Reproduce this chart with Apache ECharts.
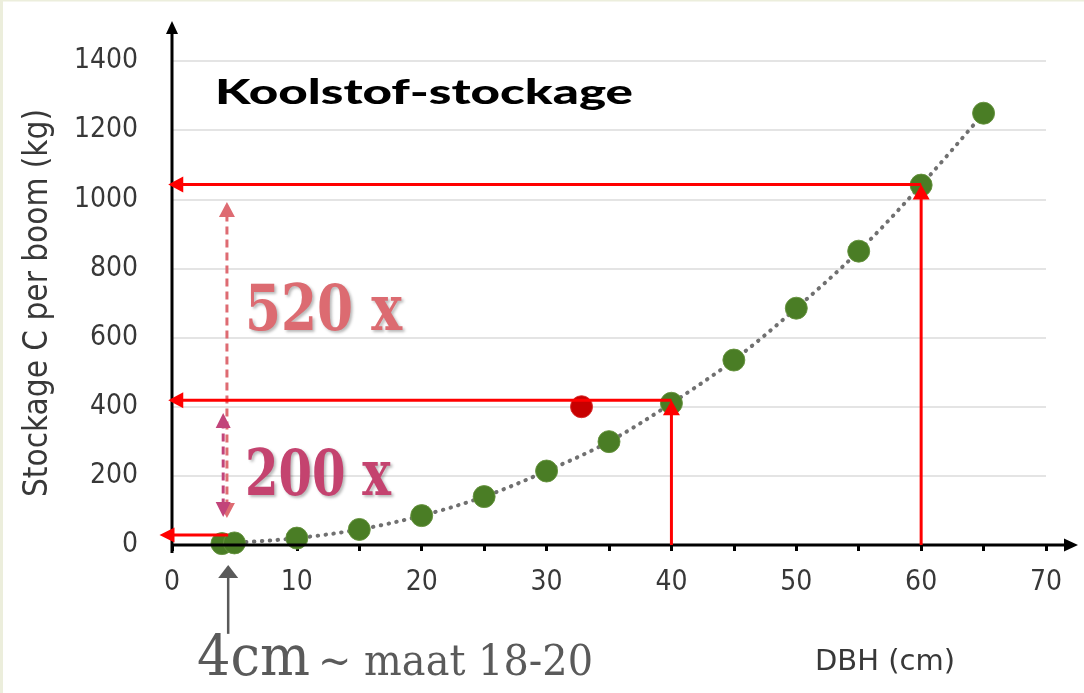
<!DOCTYPE html>
<html>
<head>
<meta charset="utf-8">
<script src="https://cdn.jsdelivr.net/npm/echarts@6/dist/echarts.min.js"></script>
<style>
html,body{margin:0;padding:0;background:#ffffff;}
#chart{width:1084px;height:693px;}
</style>
</head>
<body>
<div id="chart"></div>
<script>
// ---------- data ----------
const dbh = [4, 5, 10, 15, 20, 25, 30, 35, 40, 45, 50, 55, 60, 65];
const storage = [4, 6, 20, 45, 85, 140, 214, 299, 410, 535, 685, 850, 1041, 1249];
const highlightDbh = [32.8];
const highlightStorage = [400];
const xTickValues = [0, 10, 20, 30, 40, 50, 60, 70];
const yTickValues = [0, 200, 400, 600, 800, 1000, 1200, 1400];
// annotation anchors (data units)
const guideDbh = [60, 40];
const guideStorage = [1043, 419];
const smallArrowDbh = [4.5, -1];
const smallArrowStorage = [29, 29];
const span520 = [78, 992];   // at dbh 4.4
const span200 = [81, 382];   // at dbh 4.1
const spanDbh = [4.4, 4.1];
const sizeMarkerDbh = 4.5;
const sizeMarkerStorage = [-257, -58];

const chart = echarts.init(document.getElementById('chart'), null, {renderer: 'canvas'});

const labelFont = '"DejaVu Sans Condensed", "DejaVu Sans", sans-serif';

chart.setOption({
  backgroundColor: '#ffffff',
  animation: false,
  grid: {left: 172, right: 38, top: 61, bottom: 148, containLabel: false},
  xAxis: {
    type: 'value', min: 0, max: 70, interval: 5,
    axisLine: {show: false},
    axisTick: {show: true, inside: false, length: 6, lineStyle: {color: '#000', width: 3}},
    axisLabel: {
      margin: 24, color: '#383838', fontSize: 28, fontFamily: labelFont,
      formatter: v => xTickValues.indexOf(v) >= 0 ? String(v) : ''
    },
    splitLine: {show: false}
  },
  yAxis: {
    type: 'value', min: 0, max: 1400, interval: 200,
    axisLine: {show: false},
    axisTick: {show: false},
    axisLabel: {
      margin: 34, color: '#383838', fontSize: 28, fontFamily: labelFont,
      formatter: v => yTickValues.indexOf(v) >= 0 ? String(v) : ''
    },
    splitLine: {show: true, lineStyle: {color: '#e4e4e4', width: 2}},
    name: 'Stockage C per boom (kg)',
    nameLocation: 'middle', nameGap: 117,
    nameTextStyle: {color: '#383838', fontSize: 33, fontFamily: labelFont}
  },
  series: [
    {
      type: 'line', data: dbh.map((x, i) => [x, storage[i]]),
      smooth: 0.35, showSymbol: false, z: 2,
      lineStyle: {color: '#707070', width: 4, type: [0.5, 7.5], cap: 'round'}
    },
    {
      type: 'scatter', data: dbh.map((x, i) => [x, storage[i]]),
      symbolSize: 22, z: 3,
      itemStyle: {color: '#4a7d25', opacity: 1, borderColor: 'rgba(100,145,60,0.9)', borderWidth: 1}
    },
    {
      type: 'scatter', data: highlightDbh.map((x, i) => [x, highlightStorage[i]]),
      symbolSize: 22, z: 3,
      itemStyle: {color: '#c80000', opacity: 1, borderColor: 'rgba(215,40,40,0.9)', borderWidth: 1}
    }
  ]
});

// ---------- overlay graphics via library scales ----------
const px = (x, y) => chart.convertToPixel({gridIndex: 0}, [x, y]);

function arrow(p0, p1, o) {
  const dx = p1[0] - p0[0], dy = p1[1] - p0[1];
  const L = Math.hypot(dx, dy), ux = dx / L, uy = dy / L;
  const nx = -uy, ny = ux, hl = o.headLen, hw = o.headW / 2;
  const out = [];
  const head = (tip, ux2, uy2) => {
    const bx = tip[0] - ux2 * hl, by = tip[1] - uy2 * hl;
    return {type: 'polygon', z: o.z || 10, silent: true,
      shape: {points: [[tip[0], tip[1]], [bx + nx * hw, by + ny * hw], [bx - nx * hw, by - ny * hw]]},
      style: {fill: o.color}};
  };
  let s = p0, e = p1;
  if (o.end) { e = [p1[0] - ux * hl * 0.7, p1[1] - uy * hl * 0.7]; out.push(head(p1, ux, uy)); }
  if (o.start) { s = [p0[0] + ux * hl * 0.7, p0[1] + uy * hl * 0.7]; out.push(head(p0, -ux, -uy)); }
  out.unshift({type: 'line', z: o.z || 10, silent: true,
    shape: {x1: s[0], y1: s[1], x2: e[0], y2: e[1]},
    style: {stroke: o.color, lineWidth: o.width, lineDash: o.dash || null}});
  return out;
}

const mctx = document.createElement('canvas').getContext('2d');
function fitScale(text, weight, size, family, target) {
  mctx.font = weight + ' ' + size + 'px ' + family;
  return target / mctx.measureText(text).width;
}

function textEl(text, x, y, o) {
  const sx = o.fitWidth ? fitScale(text, o.weight || 'normal', o.size, o.family, o.fitWidth) : 1;
  return {type: 'text', x: x, y: y, scaleX: sx, z: 20, silent: true,
    style: {text: text, fill: o.color, fontSize: o.size, fontFamily: o.family, fontWeight: o.weight || 'normal',
      align: 'left', verticalAlign: 'middle',
      textShadowColor: o.shadow ? 'rgba(0,0,0,0.28)' : 'transparent',
      textShadowBlur: o.shadow ? 3 : 0, textShadowOffsetX: o.shadow ? 2 : 0, textShadowOffsetY: o.shadow ? 2 : 0}};
}

let g = [];
// page border tint
g.push({type: 'rect', shape: {x: 0, y: 0, width: 3, height: 693}, style: {fill: '#eceedc'}, z: 1, silent: true});
g.push({type: 'rect', shape: {x: 0, y: 0, width: 1084, height: 1.5}, style: {fill: '#eceedc'}, z: 1, silent: true});

// axes with arrows
const o0 = px(0, 0), xEnd = px(70, 0), yTop = px(0, 1400);
g = g.concat(arrow([o0[0], o0[1] + 8], [o0[0], yTop[1] - 40], {color: '#000', width: 3, headLen: 13, headW: 12, end: true, z: 9}));
g = g.concat(arrow([o0[0] - 1, o0[1]], [xEnd[0] + 32, o0[1]], {color: '#000', width: 3, headLen: 14, headW: 13, end: true, z: 9}));

// red guide arrows (vertical from axis up to point, horizontal back to y-axis)
const red = '#ff0000';
for (let i = 0; i < guideDbh.length; i++) {
  const base = px(guideDbh[i], 0), top = px(guideDbh[i], guideStorage[i]);
  g = g.concat(arrow(base, top, {color: red, width: 3, headLen: 15, headW: 17, end: true, z: 12}));
  const left = px(-0.3, guideStorage[i]);
  g = g.concat(arrow(top, left, {color: red, width: 3, headLen: 15, headW: 16, end: true, z: 12}));
}
g = g.concat(arrow(px(smallArrowDbh[0], smallArrowStorage[0]), px(smallArrowDbh[1], smallArrowStorage[1]),
  {color: red, width: 3, headLen: 15, headW: 15, end: true, z: 12}));

// dashed ratio arrows
g = g.concat(arrow(px(spanDbh[0], span520[0]), px(spanDbh[0], span520[1]),
  {color: '#de6b72', width: 3, dash: [8, 5], headLen: 15, headW: 16, start: true, end: true, z: 11}));
g = g.concat(arrow(px(spanDbh[1], span200[0]), px(spanDbh[1], span200[1]),
  {color: '#c2447a', width: 3, dash: [8, 5], headLen: 15, headW: 15, start: true, end: true, z: 11}));

// gray size marker arrow
g = g.concat(arrow(px(sizeMarkerDbh, sizeMarkerStorage[0]), px(sizeMarkerDbh, sizeMarkerStorage[1]),
  {color: '#5a5a5a', width: 2.5, headLen: 13, headW: 20, end: true, z: 11}));

// texts
g.push(textEl('Koolstof-stockage', 215, 93, {color: '#000', size: 34, family: 'Lato, sans-serif', weight: '900', fitWidth: 418}));
g.push(textEl('520 x', 245, 314, {color: '#dc6b71', size: 63, family: '"DejaVu Serif", serif', weight: 'bold', fitWidth: 157, shadow: true}));
g.push(textEl('200 x', 245, 479, {color: '#c4436f', size: 63, family: '"DejaVu Serif", serif', weight: 'bold', fitWidth: 146, shadow: true}));
g.push(textEl('4cm', 197, 660, {color: '#5a5a5a', size: 56, family: '"DejaVu Serif", serif', fitWidth: 113}));
g.push(textEl('~ maat 18-20', 318, 664, {color: '#5a5a5a', size: 43, family: '"DejaVu Serif", serif', fitWidth: 275}));
g.push(textEl('DBH (cm)', 815, 663, {color: '#383838', size: 28, family: labelFont, fitWidth: 140}));

chart.setOption({graphic: {elements: g}});
</script>
</body>
</html>
